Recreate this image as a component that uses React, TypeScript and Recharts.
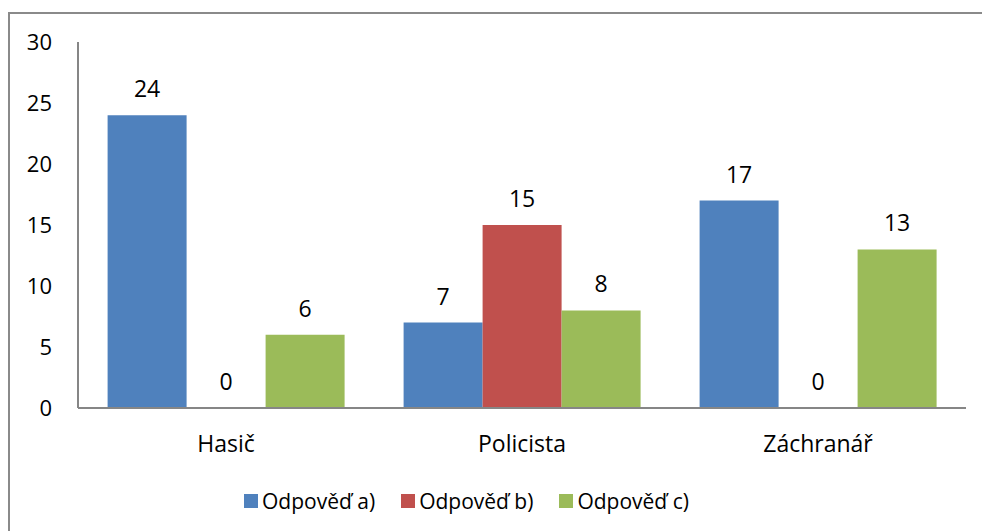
import React from 'react';
import { BarChart, Bar, XAxis, YAxis } from 'recharts';

const categories = ['Hasič', 'Policista', 'Záchranář'];
const seriesA = [24, 7, 17];
const seriesB = [0, 15, 0];
const seriesC = [6, 8, 13];
const yTicks = [0, 5, 10, 15, 20, 25, 30];

const seriesNames = ['Odpověď a)', 'Odpověď b)', 'Odpověď c)'];
const colors = ['#4F81BD', '#C0504D', '#9BBB59'];

const data = categories.map((c, i) => ({ name: c, a: seriesA[i], b: seriesB[i], c: seriesC[i] }));

const FONT = '"Open Sans", sans-serif';

const XTick = (props: any) => {
  const { x, y, payload } = props;
  return (
    <text x={x} y={y + 36} textAnchor="middle" fontFamily={FONT} fontSize={23} fill="#000">
      {payload.value}
    </text>
  );
};

const YTick = (props: any) => {
  const { y, payload } = props;
  return (
    <text x={52} y={y + 8} textAnchor="end" fontFamily={FONT} fontSize={22} fill="#000">
      {payload.value}
    </text>
  );
};

// value labels, drawn also for zero-height bars
const ValueLabel = (props: any) => {
  const { x, y, width, value } = props;
  return (
    <text x={x + width / 2} y={y - 18} textAnchor="middle" fontFamily={FONT} fontSize={23} fill="#000">
      {value}
    </text>
  );
};

export default function App() {
  return (
    <div style={{ position: 'absolute', left: 0, top: 0, width: 982, height: 531, background: '#fff', overflow: 'hidden' }}>
      <div style={{ position: 'absolute', left: 8, top: 12, width: 1000, height: 600, borderTop: '2px solid #8a8a8a', borderLeft: '2px solid #8a8a8a' }} />
      <BarChart
        width={982}
        height={531}
        data={data}
        margin={{ top: 42, right: 16, left: 18, bottom: 93 }}
        barCategoryGap="10%"
        barGap={0}
        style={{ position: 'absolute', left: 0, top: 0 }}
      >
        <XAxis dataKey="name" height={30} tickLine={false} axisLine={{ stroke: '#868686', strokeWidth: 2 }} tick={<XTick />} interval={0} />
        <YAxis width={60} domain={[0, 30]} ticks={yTicks} tickLine={false} axisLine={{ stroke: '#868686', strokeWidth: 2 }} tick={<YTick />} interval={0} />
        <Bar dataKey="a" fill={colors[0]} isAnimationActive={false} minPointSize={0.01} label={<ValueLabel />} />
        <Bar dataKey="b" fill={colors[1]} isAnimationActive={false} minPointSize={0.01} label={<ValueLabel />} />
        <Bar dataKey="c" fill={colors[2]} isAnimationActive={false} minPointSize={0.01} label={<ValueLabel />} />
      </BarChart>
      <div style={{ position: 'absolute', left: 244, top: 487, display: 'flex', alignItems: 'center', fontFamily: FONT, fontSize: 21, color: '#000' }}>
        {seriesNames.map((n, i) => (
          <div key={n} style={{ display: 'flex', alignItems: 'center', marginRight: i < 2 ? 26 : 0 }}>
            <span style={{ display: 'inline-block', width: 14, height: 14, background: colors[i], marginRight: 4 }} />
            <span>{n}</span>
          </div>
        ))}
      </div>
    </div>
  );
}
